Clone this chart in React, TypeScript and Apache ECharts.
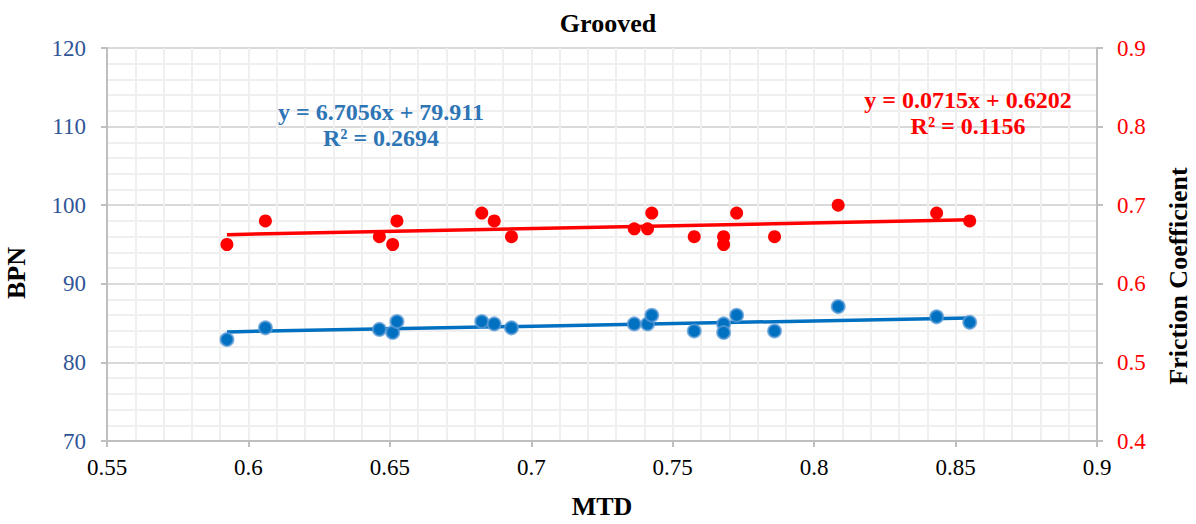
import React, { useEffect, useRef } from "react";
import * as echarts from "echarts";

const mtd = [0.5924, 0.606, 0.6463, 0.651, 0.6525, 0.6825, 0.6869, 0.693, 0.7364, 0.7411, 0.7426, 0.7576, 0.768, 0.768, 0.7726, 0.786, 0.8085, 0.8433, 0.855];
const bpn = [82.9, 84.4, 84.2, 83.8, 85.2, 85.2, 84.9, 84.4, 84.9, 84.9, 86.0, 84.0, 84.9, 83.8, 86.0, 84.0, 87.1, 85.8, 85.1];
const friction = [0.65, 0.68, 0.66, 0.65, 0.68, 0.69, 0.68, 0.66, 0.67, 0.67, 0.69, 0.66, 0.66, 0.65, 0.69, 0.66, 0.7, 0.69, 0.68];

const bpnFit = { slope: 6.7056, intercept: 79.911, r2: 0.2694 };
const fricFit = { slope: 0.0715, intercept: 0.6202, r2: 0.1156 };

const FONT = "Liberation Serif";
const BLUE_LABEL = "#2f5597";
const BLUE_TEXT = "#2e75b6";
const BLUE = "#0070c0";
const RED = "#ff0000";

export default function App() {
  const ref = useRef<HTMLDivElement>(null);
  useEffect(() => {
    document.body.style.margin = "0";
    const chart = echarts.init(ref.current!, null, { renderer: "svg" });
    const xmin = Math.min(...mtd);
    const xmax = Math.max(...mtd);
    const bpnLine = [xmin, xmax].map((x) => [x, bpnFit.slope * x + bpnFit.intercept]);
    const fricLine = [xmin, xmax].map((x) => [x, fricFit.slope * x + fricFit.intercept]);
    const axisTitle = { fontFamily: FONT, fontWeight: "bold", fontSize: 26, fill: "#000", align: "center", verticalAlign: "middle" };
    chart.setOption({
      animation: false,
      textStyle: { fontFamily: FONT },
      title: {
        text: "Grooved",
        left: 603,
        textAlign: "center",
        top: 5,
        textStyle: { fontFamily: FONT, fontWeight: "bold", fontSize: 26, color: "#000" },
      },
      grid: { left: 107, right: 99, top: 48, bottom: 78, containLabel: false },
      xAxis: {
        type: "value",
        min: 0.55,
        max: 0.9,
        interval: 0.05,
        name: "MTD",
        nameLocation: "middle",
        nameGap: 52,
        nameTextStyle: { fontFamily: FONT, fontWeight: "bold", fontSize: 26, color: "#000" },
        axisLine: { show: true, lineStyle: { color: "#bfbfbf", width: 2 } },
        axisTick: { show: true, length: 6, lineStyle: { color: "#bfbfbf", width: 2 } },
        axisLabel: { fontFamily: FONT, fontSize: 23, color: "#000", margin: 15 },
        splitLine: { show: true, lineStyle: { color: "#efefef", width: 2 } },
        minorTick: { show: false, splitNumber: 5 },
        minorSplitLine: { show: true, lineStyle: { color: "#efefef", width: 2 } },
      },
      yAxis: [
        {
          type: "value",
          min: 70,
          max: 120,
          interval: 10,
          axisLine: { show: true, lineStyle: { color: "#bfbfbf", width: 2 } },
          axisTick: { show: true, length: 6, lineStyle: { color: "#bfbfbf", width: 2 } },
          axisLabel: { fontFamily: FONT, fontSize: 23, color: BLUE_LABEL, margin: 21 },
          splitLine: { show: true, lineStyle: { color: "#d9d9d9", width: 2 } },
          minorTick: { show: false, splitNumber: 5 },
          minorSplitLine: { show: true, lineStyle: { color: "#efefef", width: 2 } },
        },
        {
          type: "value",
          min: 0.4,
          max: 0.9,
          interval: 0.1,
          position: "right",
          axisLine: { show: true, lineStyle: { color: "#bfbfbf", width: 2 } },
          axisTick: { show: true, length: 6, lineStyle: { color: "#bfbfbf", width: 2 } },
          axisLabel: {
            fontFamily: FONT,
            fontSize: 23,
            color: RED,
            margin: 20,
            formatter: (v: number) => String(Math.round(v * 10) / 10),
          },
          splitLine: { show: false },
        },
      ],
      graphic: [
        {
          type: "text",
          x: 16,
          y: 273,
          rotation: Math.PI / 2,
          z: 100,
          style: { ...axisTitle, text: "BPN" },
        },
        {
          type: "text",
          x: 1178,
          y: 276,
          rotation: Math.PI / 2,
          z: 100,
          style: { ...axisTitle, text: "Friction Coefficient" },
        },
        {
          type: "text",
          x: 381,
          y: 125,
          z: 100,
          style: {
            text: `y = ${bpnFit.slope}x + ${bpnFit.intercept}\nR² = ${bpnFit.r2}`,
            fontFamily: FONT,
            fontWeight: "bold",
            fontSize: 24,
            fill: BLUE_TEXT,
            align: "center",
            verticalAlign: "middle",
            lineHeight: 26,
          },
        },
        {
          type: "text",
          x: 968,
          y: 113,
          z: 100,
          style: {
            text: `y = ${fricFit.slope}x + ${fricFit.intercept}\nR² = ${fricFit.r2}`,
            fontFamily: FONT,
            fontWeight: "bold",
            fontSize: 24,
            fill: RED,
            align: "center",
            verticalAlign: "middle",
            lineHeight: 26,
          },
        },
      ],
      series: [
        {
          type: "line",
          data: bpnLine,
          yAxisIndex: 0,
          symbol: "none",
          lineStyle: { color: BLUE, width: 3.5 },
          z: 2,
        },
        {
          type: "line",
          data: fricLine,
          yAxisIndex: 1,
          symbol: "none",
          lineStyle: { color: RED, width: 3.5 },
          z: 2,
        },
        {
          type: "scatter",
          data: mtd.map((x, i) => [x, bpn[i]]),
          yAxisIndex: 0,
          symbolSize: 13,
          itemStyle: { color: BLUE, borderColor: "rgba(91,155,213,0.75)", borderWidth: 2, opacity: 1 },
          z: 3,
        },
        {
          type: "scatter",
          data: mtd.map((x, i) => [x, friction[i]]),
          yAxisIndex: 1,
          symbolSize: 13,
          itemStyle: { color: RED, opacity: 1 },
          z: 3,
        },
      ],
    });
    return () => chart.dispose();
  }, []);
  return <div ref={ref} style={{ width: 1196, height: 524 }} />;
}
